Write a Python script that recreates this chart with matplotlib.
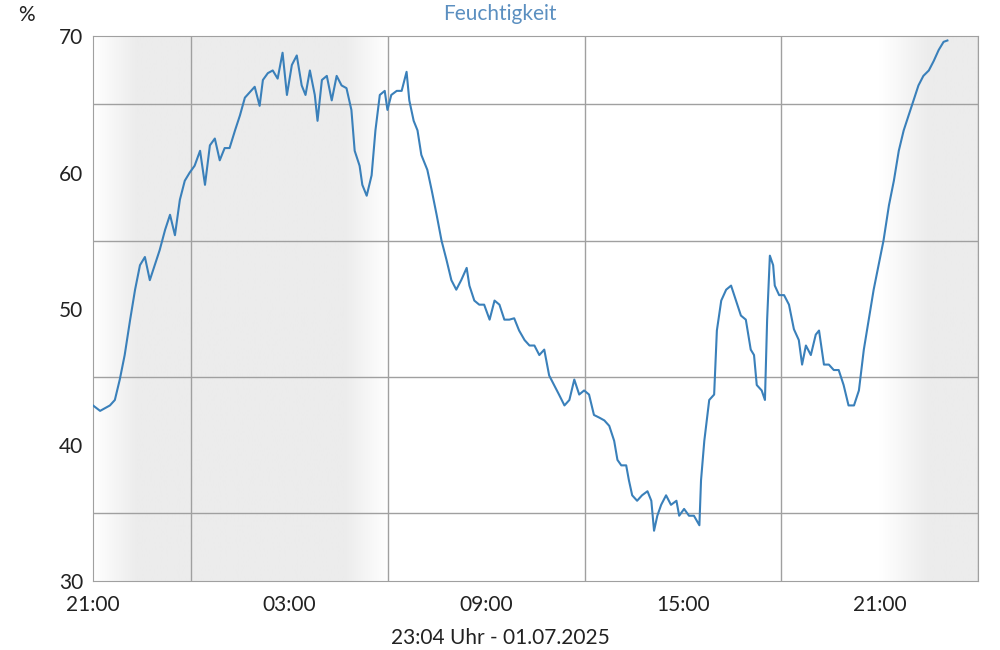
"""Feuchtigkeit - Tagesverlauf"""
import matplotlib
matplotlib.use('Agg')
import matplotlib.pyplot as plt
import numpy as np
from matplotlib.colors import LinearSegmentedColormap

plt.rcParams['font.family'] = ['Lato', 'DejaVu Sans']

# minutes after 21:00 (30.06.) and relative humidity in %
minutes = [0, 13, 31, 40, 49, 58, 68, 77, 86, 95, 104, 113, 122, 132, 141, 150, 159, 168,
           177, 186, 196, 205, 214, 223, 232, 241, 250, 260, 269, 278, 287, 296, 305, 311,
           320, 329, 338, 347, 355, 364, 373, 382, 389, 397, 406, 411, 419, 428, 437, 446,
           455, 464, 473, 479, 488, 493, 501, 510, 517, 525, 534, 539, 546, 556, 565, 574,
           579, 587, 594, 601, 612, 620, 629, 638, 647, 656, 665, 674, 684, 689, 698, 707,
           716, 726, 735, 744, 753, 762, 771, 780, 790, 799, 808, 817, 826, 835, 844, 853,
           863, 872, 881, 890, 899, 908, 917, 927, 936, 945, 954, 960, 967, 976, 981, 987,
           996, 1005, 1015, 1022, 1027, 1033, 1040, 1049, 1058, 1068, 1073, 1082, 1091, 1100,
           1110, 1113, 1119, 1128, 1137, 1142, 1150, 1159, 1168, 1177, 1186, 1195, 1204, 1210,
           1215, 1224, 1230, 1234, 1239, 1245, 1248, 1256, 1265, 1274, 1283, 1292, 1298, 1305,
           1314, 1323, 1329, 1338, 1347, 1356, 1365, 1374, 1383, 1393, 1402, 1411, 1420, 1429,
           1438, 1447, 1457, 1466, 1475, 1484, 1493, 1502, 1511, 1520, 1530, 1539, 1548, 1557,
           1564]
humidity = [42.9, 42.5, 42.9, 43.3, 44.8, 46.6, 49.2, 51.4, 53.2, 53.8, 52.1, 53.2, 54.3,
            55.8, 56.9, 55.4, 58.0, 59.4, 60.0, 60.5, 61.6, 59.1, 62.0, 62.5, 60.9, 61.8,
            61.8, 63.1, 64.2, 65.5, 65.9, 66.3, 64.9, 66.8, 67.3, 67.5, 66.9, 68.8, 65.7,
            67.9, 68.6, 66.4, 65.7, 67.5, 65.7, 63.8, 66.8, 67.1, 65.3, 67.1, 66.4, 66.2,
            64.6, 61.6, 60.5, 59.1, 58.3, 59.8, 63.1, 65.7, 66.0, 64.6, 65.7, 66.0, 66.0,
            67.4, 65.3, 63.8, 63.1, 61.3, 60.2, 58.7, 56.9, 55.0, 53.6, 52.1, 51.4, 52.1,
            53.0, 51.7, 50.6, 50.3, 50.3, 49.2, 50.6, 50.3, 49.2, 49.2, 49.3, 48.4, 47.7,
            47.3, 47.3, 46.6, 47.0, 45.1, 44.4, 43.7, 42.9, 43.3, 44.8, 43.7, 44.0, 43.7,
            42.2, 42.0, 41.8, 41.4, 40.3, 38.9, 38.5, 38.5, 37.4, 36.3, 35.9, 36.3, 36.6,
            35.9, 33.7, 34.8, 35.6, 36.3, 35.6, 35.9, 34.8, 35.3, 34.8, 34.8, 34.1, 37.4,
            40.3, 43.3, 43.7, 48.4, 50.6, 51.4, 51.7, 50.6, 49.5, 49.2, 47.0, 46.6, 44.4,
            44.0, 43.3, 49.2, 53.9, 53.2, 51.7, 51.0, 51.0, 50.3, 48.5, 47.7, 45.9, 47.3,
            46.6, 48.1, 48.4, 45.9, 45.9, 45.5, 45.5, 44.4, 42.9, 42.9, 44.0, 47.0, 49.2,
            51.4, 53.2, 55.0, 57.6, 59.4, 61.6, 63.1, 64.2, 65.3, 66.4, 67.1, 67.5, 68.2,
            69.0, 69.6, 69.7]

x_ticks = [0, 360, 720, 1080, 1440]
x_labels = ['21:00', '03:00', '09:00', '15:00', '21:00']
y_ticks = [30, 40, 50, 60, 70]

fig = plt.figure(figsize=(10, 6.5), dpi=100)
ax = fig.add_axes([0.093, 0.106, 0.885, 0.838])
ax.set_xlim(0, 1620)
ax.set_ylim(30, 70)

# night shading (gray with soft twilight edges)
shade = np.zeros(1620)
for m in range(1620):
    if m < 80:
        shade[m] = m / 80
    elif m < 460:
        shade[m] = 1
    elif m < 540:
        shade[m] = (540 - m) / 80
    elif m >= 1440 and m < 1530:
        shade[m] = (m - 1440) / 90
    elif m >= 1530:
        shade[m] = 1
cmap = LinearSegmentedColormap.from_list('night', ['#ffffff', '#ececec'])
ax.imshow(shade[np.newaxis, :], aspect='auto', cmap=cmap, extent=[0, 1620, 30, 70],
          vmin=0, vmax=1, zorder=0, interpolation='bilinear')

ax.set_xticks(np.arange(0, 1621, 180), minor=True)
ax.set_yticks(np.arange(30, 71, 5), minor=True)
ax.grid(True, which='minor', color='#a0a0a0', linewidth=1, zorder=1)
ax.set_xticks(x_ticks)
ax.set_xticklabels(x_labels)
ax.set_yticks(y_ticks)
ax.tick_params(which='both', length=0, labelsize=15, colors='#222222')
ax.tick_params(axis='x', pad=10)
ax.tick_params(axis='y', pad=7)
for s in ax.spines.values():
    s.set_color('#a0a0a0')

ax.plot(minutes, humidity, color='#3a80ba', linewidth=1.5, zorder=3)

fig.text(0.018, 0.977, '%', fontsize=15, color='#222222', ha='left', va='center')
fig.text(0.5, 0.978, 'Feuchtigkeit', fontsize=15, color='#5b8fc0', ha='center', va='center')
fig.text(0.5, 0.0185, '23:04 Uhr - 01.07.2025', fontsize=15, color='#222222',
         ha='center', va='center')

plt.savefig('out.png', dpi=100)
plt.close()
